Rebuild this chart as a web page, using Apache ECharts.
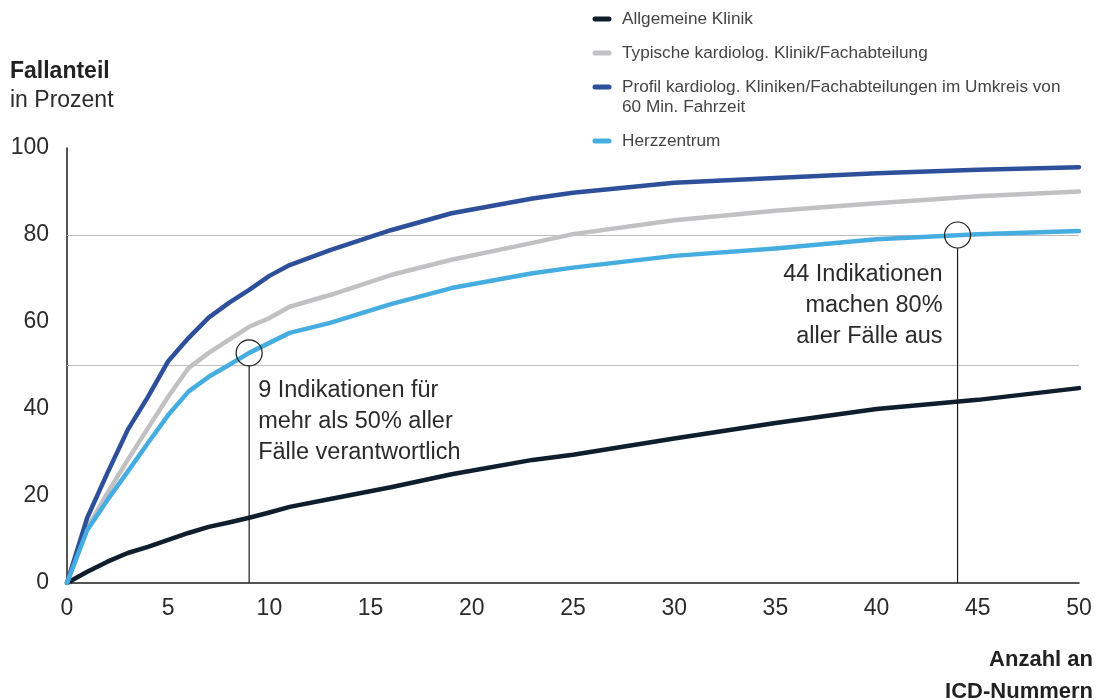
<!DOCTYPE html>
<html lang="de">
<head>
<meta charset="utf-8">
<title>Fallanteil nach Anzahl an ICD-Nummern</title>
<script src="https://cdn.jsdelivr.net/npm/echarts@6/dist/echarts.min.js"></script>
<style>
  html, body { margin: 0; padding: 0; background: #ffffff; }
  #chart { width: 1110px; height: 700px; }
</style>
</head>
<body>
<div id="chart"></div>
<script>
// Anzahl an ICD-Nummern (x) and cumulative share of cases in percent (y)
const icdCount = [0, 1, 2, 3, 4, 5, 6, 7, 8, 9, 10, 11, 13, 16, 19, 23, 25, 30, 35, 40, 45, 50];

const allgemeineKlinik = [0, 2.6, 4.9, 6.9, 8.3, 9.9, 11.5, 12.9, 13.9, 15, 16.2, 17.5, 19.3, 22, 25, 28.3, 29.5, 33.2, 36.8, 40, 42.1, 44.8];
const typischeKardio   = [0, 12.6, 20.7, 28.3, 35.6, 42.8, 49.4, 52.9, 55.9, 58.9, 60.9, 63.5, 66.2, 70.8, 74.3, 78.2, 80.2, 83.4, 85.6, 87.3, 88.9, 90];
const profilUmkreis    = [0, 15, 25.3, 35.2, 42.8, 51, 56.3, 61, 64.4, 67.4, 70.6, 73.1, 76.5, 81.1, 85, 88.4, 89.7, 92, 93.1, 94.2, 95, 95.6];
const herzzentrum      = [0, 12.2, 19.1, 25.6, 32.2, 38.6, 44, 47.4, 50.1, 52.9, 55.2, 57.5, 59.8, 64.1, 67.8, 71.2, 72.5, 75.2, 76.9, 79, 80.2, 80.9];

const seriesNames = [
  'Allgemeine Klinik',
  'Typische kardiolog. Klinik/Fachabteilung',
  'Profil kardiolog. Kliniken/Fachabteilungen im Umkreis von\n60 Min. Fahrzeit',
  'Herzzentrum'
];
const seriesValues = [allgemeineKlinik, typischeKardio, profilUmkreis, herzzentrum];
const seriesColors = ['#0e1e2d', '#c1c1c3', '#2e509b', '#46ade1'];

// Reference levels drawn as horizontal rules
const referenceLevels = [80, 50];

// Highlighted points on the Herzzentrum curve
const markerCount = [9, 44];
const markerShare = [52.9, 80];
const markerTexts = [
  '9 Indikationen für\nmehr als 50% aller\nFälle verantwortlich',
  '44 Indikationen\nmachen 80%\naller Fälle aus'
];

const yTicks = [0, 20, 40, 60, 80, 100];
const xTicks = [0, 5, 10, 15, 20, 25, 30, 35, 40, 45, 50];

const xAxisTitle = 'Anzahl an\nICD-Nummern';

const FONT = '"Liberation Sans", Arial, sans-serif';
const TEXT_COLOR = '#2b2b2b';

const chart = echarts.init(document.getElementById('chart'), null, { renderer: 'canvas' });

const lineSeries = seriesValues.map((vals, i) => ({
  type: 'line',
  name: seriesNames[i],
  data: icdCount.map((x, k) => [x, vals[k]]),
  showSymbol: false,
  smooth: false,
  z: 3 + i,
  lineStyle: { color: seriesColors[i], width: 4.5, cap: 'round', join: 'round' },
  itemStyle: { color: seriesColors[i] },
  emphasis: { disabled: true },
  silent: true,
  animation: false
}));

// horizontal rules at the reference levels
lineSeries[0].markLine = {
  silent: true,
  symbol: ['none', 'none'],
  label: { show: false },
  lineStyle: { color: '#bdbdbd', width: 1, type: 'solid' },
  data: referenceLevels.map(v => ({ yAxis: v })),
  z: 1
};

const markerSeries = {
  type: 'custom',
  data: markerCount.map((x, i) => [x, markerShare[i], i]),
  z: 10,
  clip: false,
  silent: true,
  animation: false,
  renderItem: function (params, api) {
    const p = api.coord([api.value(0), api.value(1)]);
    const base = api.coord([api.value(0), 0]);
    const idx = api.value(2);
    const r = 13;
    const rightSide = idx === 0;
    return {
      type: 'group',
      children: [
        {
          type: 'circle',
          shape: { cx: p[0], cy: p[1], r: r },
          style: { fill: 'none', stroke: '#1c1c1c', lineWidth: 1.2 }
        },
        {
          type: 'line',
          shape: { x1: p[0], y1: p[1] + r, x2: p[0], y2: base[1] },
          style: { stroke: '#1c1c1c', lineWidth: 1.2 }
        },
        {
          type: 'text',
          style: {
            text: markerTexts[idx],
            x: rightSide ? p[0] + 9 : p[0] - 15,
            y: rightSide ? p[1] + 22 : p[1] + 24,
            align: rightSide ? 'left' : 'right',
            verticalAlign: 'top',
            font: '23.5px ' + FONT,
            lineHeight: 31,
            fill: TEXT_COLOR
          }
        }
      ]
    };
  }
};

// Legend: short rounded swatch followed by the series name
const legendGraphics = [];
let rowY = 19;
seriesNames.forEach((name, i) => {
  const lines = name.split('\n').length;
  legendGraphics.push({
    type: 'line',
    shape: { x1: 595, y1: rowY, x2: 609, y2: rowY },
    style: { stroke: seriesColors[i], lineWidth: 5, lineCap: 'round' },
    silent: true
  });
  legendGraphics.push({
    type: 'text',
    style: {
      text: name,
      x: 622,
      y: rowY - 10,
      verticalAlign: 'top',
      font: '17.2px ' + FONT,
      lineHeight: 20,
      fill: '#444444'
    },
    silent: true
  });
  rowY += 34 + (lines - 1) * 20;
});

// x-axis title, right-aligned below the axis end
const axisTitleGraphic = {
  type: 'text',
  x: 1093,
  y: 644,
  style: {
    text: xAxisTitle,
    align: 'right',
    verticalAlign: 'top',
    font: 'bold 22px ' + FONT,
    lineHeight: 32,
    fill: '#222222'
  },
  silent: true
};

chart.setOption({
  animation: false,
  backgroundColor: '#ffffff',
  title: {
    text: 'Fallanteil',
    subtext: 'in Prozent',
    left: 10,
    top: 59,
    padding: 0,
    itemGap: 3,
    textStyle: { fontFamily: FONT, fontSize: 23, fontWeight: 'bold', color: '#222222', lineHeight: 26 },
    subtextStyle: { fontFamily: FONT, fontSize: 23, color: TEXT_COLOR, lineHeight: 26 }
  },
  grid: { left: 67, right: 31, top: 148, bottom: 117, containLabel: false, outerBoundsMode: 'none' },
  xAxis: {
    type: 'value',
    min: xTicks[0],
    max: xTicks[xTicks.length - 1],
    interval: xTicks[1] - xTicks[0],
    axisLine: { show: true, lineStyle: { color: '#1c1c1c', width: 1.5 } },
    axisTick: { show: false },
    splitLine: { show: false },
    axisLabel: { margin: 14, fontFamily: FONT, fontSize: 23, color: TEXT_COLOR }
  },
  yAxis: {
    type: 'value',
    min: yTicks[0],
    max: yTicks[yTicks.length - 1],
    interval: yTicks[1] - yTicks[0],
    axisLine: { show: true, lineStyle: { color: '#1c1c1c', width: 1.5 } },
    axisTick: { show: false },
    splitLine: { show: false },
    axisLabel: { margin: 18, fontFamily: FONT, fontSize: 23, color: TEXT_COLOR }
  },
  graphic: legendGraphics.concat([axisTitleGraphic]),
  series: lineSeries.concat([markerSeries])
});
</script>
</body>
</html>
